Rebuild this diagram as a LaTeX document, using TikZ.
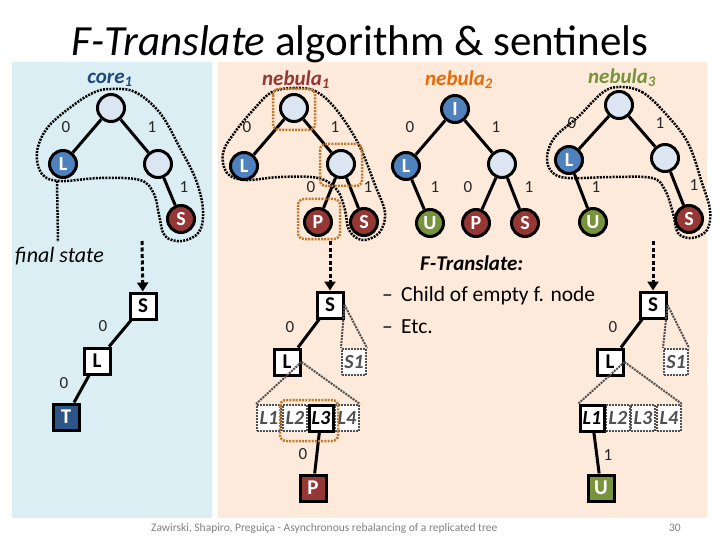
\documentclass[tikz,border=0pt]{standalone}
\usepackage{fontspec}
\setmainfont{Carlito}
\usetikzlibrary{arrows.meta}
\definecolor{bluebg}{RGB}{219,238,244}
\definecolor{peachbg}{RGB}{253,234,218}
\definecolor{nodeblue}{RGB}{79,129,189}
\definecolor{nodelight}{RGB}{220,230,242}
\definecolor{nodered}{RGB}{149,55,53}
\definecolor{nodegreen}{RGB}{119,147,60}
\definecolor{nodenavy}{RGB}{45,85,135}
\definecolor{corecol}{RGB}{31,73,125}
\definecolor{neb2col}{RGB}{228,108,10}
\definecolor{orangebox}{RGB}{192,120,45}
\definecolor{graybox}{RGB}{80,80,80}
\tikzset{
 cn/.style={circle, draw=black, line width=3pt, minimum size=27pt, inner sep=0pt, text=white, font=\fontsize{20}{20}\selectfont\bfseries},
 sq/.style={rectangle, draw=black, line width=3pt, minimum size=26pt, inner sep=0pt, fill=white, font=\fontsize{21}{21}\selectfont\bfseries},
 gb/.style={rectangle, draw=graybox, line width=2pt, dash pattern=on 2pt off 1pt, minimum width=24pt, minimum height=26pt, inner sep=0pt, fill=white, text=graybox, font=\fontsize{20}{20}\selectfont\bfseries\itshape},
 bb/.style={gb, draw=black, solid, line width=3pt, text=black},
 edge/.style={line width=3pt, black},
 lab/.style={font=\fontsize{17}{17}\selectfont, inner sep=0pt, text=black!85},
 loopline/.style={line width=2.5pt, dash pattern=on 2pt off 1.2pt},
 obox/.style={draw=orangebox, line width=2.5pt, dash pattern=on 2pt off 1.2pt, rounded corners=6pt},
 wedge/.style={draw=graybox, line width=2pt, dash pattern=on 2pt off 1pt},
 darr/.style={line width=3pt, dash pattern=on 4pt off 2.5pt, -{Triangle[length=9pt,width=11pt]}},
 ttl/.style={font=\fontsize{21}{21}\selectfont\bfseries\itshape, inner sep=0pt},
}
\begin{document}
\begin{tikzpicture}[x=1pt,y=-1pt]
\useasboundingbox (0,0) rectangle (720,540);
\fill[white] (0,0) rectangle (720,540);
\fill[bluebg] (12,62) rectangle (212,518);
\fill[peachbg] (218,62) rectangle (707,518);

% title
\node[font=\fontsize{43}{43}\selectfont, anchor=base, inner sep=0pt] (title) at (360,56) {\itshape F-Translate\upshape{} algorithm \& sentinels};

% ---------- dotted outlines ----------
\draw[loopline] plot[smooth cycle, tension=0.6] coordinates {(111,89) (135,92) (160,113) (180,148) (196,180) (203,210) (199,232) (182,241) (165,236) (159,215) (154,194) (140,180) (100,178) (60,181) (42,174) (37,152) (48,127) (75,104) (95,92)};
\draw[loopline] (57,181) -- (58,242);
\draw[loopline] plot[smooth cycle, tension=0.6] coordinates {(294,88) (315,91) (335,108) (358,143) (375,185) (385,213) (379,233) (362,240) (349,230) (345,210) (337,190) (318,178) (280,177) (245,180) (227,173) (223,153) (235,132) (255,108) (272,92)};
\draw[loopline] plot[smooth cycle, tension=0.6] coordinates {(619,87) (642,92) (665,113) (688,143) (702,183) (710,210) (707,230) (692,238) (678,233) (673,213) (665,190) (652,178) (612,177) (568,178) (552,172) (547,157) (555,137) (578,117) (602,93)};

% ---------- core1 ----------
\node[ttl, text=corecol] (c1t) at (110,80) {core\textsubscript{1}};
\node[cn, fill=nodelight] (c1r) at (111,108) {};
\node[cn, fill=nodeblue] (c1L) at (63,164) {L};
\node[cn, fill=nodelight] (c1R) at (158,164) {};
\node[cn, fill=nodered] (c1S) at (181,219) {S};
\draw[edge] (c1r) -- (c1L);
\draw[edge] (c1r) -- (c1R);
\draw[edge] (c1R) -- (c1S);
\node[lab] (c1l0) at (66,127) {0};
\node[lab] (c1l1) at (152,127) {1};
\node[lab] (c1l2) at (184,187) {1};

% ---------- nebula1 ----------
\node[ttl, text=nodered] (n1t) at (296,80) {nebula\textsubscript{1}};
\node[cn, fill=nodelight] (n1r) at (294,108) {};
\node[cn, fill=nodeblue] (n1L) at (244,166) {L};
\node[cn, fill=nodelight] (n1R) at (341,164) {};
\node[cn, fill=nodered] (n1P) at (318,222) {P};
\node[cn, fill=nodered] (n1S) at (364,222) {S};
\draw[edge] (n1r) -- (n1L);
\draw[edge] (n1r) -- (n1R);
\draw[edge] (n1R) -- (n1P);
\draw[edge] (n1R) -- (n1S);
\node[lab] (n1l0) at (247,127) {0};
\node[lab] (n1l1) at (335,127) {1};
\node[lab] (n1l2) at (311,187) {0};
\node[lab] (n1l3) at (368,187) {1};
\draw[obox] (273,89) rectangle (315,130);
\draw[obox] (320,144) rectangle (362,186);
\draw[obox] (298,199) rectangle (340,239);

% ---------- nebula2 ----------
\node[ttl, text=neb2col] (n2t) at (459,80) {nebula\textsubscript{2}};
\node[cn, fill=nodeblue] (n2r) at (455,109) {I};
\node[cn, fill=nodeblue] (n2L) at (406,166) {L};
\node[cn, fill=nodelight] (n2R) at (502,164) {};
\node[cn, fill=nodegreen] (n2U) at (430,223) {U};
\node[cn, fill=nodered] (n2P) at (476,223) {P};
\node[cn, fill=nodered] (n2S) at (525,223) {S};
\draw[edge] (n2r) -- (n2L);
\draw[edge] (n2r) -- (n2R);
\draw[edge] (n2L) -- (n2U);
\draw[edge] (n2R) -- (n2P);
\draw[edge] (n2R) -- (n2S);
\node[lab] (n2l0) at (410,127) {0};
\node[lab] (n2l1) at (496,127) {1};
\node[lab] (n2l2) at (435,187) {1};
\node[lab] (n2l3) at (468,187) {0};
\node[lab] (n2l4) at (529,187) {1};

% ---------- nebula3 ----------
\node[ttl, text=nodegreen] (n3t) at (622,78) {nebula\textsubscript{3}};
\node[cn, fill=nodelight] (n3r) at (619,105) {};
\node[cn, fill=nodeblue] (n3L) at (569,160) {L};
\node[cn, fill=nodelight] (n3R) at (665,158) {};
\node[cn, fill=nodegreen] (n3U) at (593,222) {U};
\node[cn, fill=nodered] (n3S) at (689,219) {S};
\draw[edge] (n3r) -- (n3L);
\draw[edge] (n3r) -- (n3R);
\draw[edge] (n3L) -- (n3U);
\draw[edge] (n3R) -- (n3S);
\node[lab] (n3l0) at (572,123) {0};
\node[lab] (n3l1) at (660,123) {1};
\node[lab] (n3l2) at (596,187) {1};
\node[lab] (n3l3) at (694,185) {1};

% ---------- final state ----------
\node[font=\fontsize{22}{22}\selectfont\itshape, inner sep=0pt, anchor=base west] (fst) at (15,262) {final state};
\node[sq] (fS) at (143,306) {S};
\node[sq] (fL) at (97,361) {L};
\node[sq, fill=nodenavy, text=white] (fT) at (66,417) {T};
\draw[edge] (fS) -- (fL);
\draw[edge] (fL) -- (fT);
\node[lab] (fl0) at (103,326) {0};
\node[lab] (fl1) at (64,383) {0};
\coordinate (a1) at (142,241);
\draw[darr] (a1) -- (fS);

% ---------- middle bottom ----------
\node[sq] (mS) at (330,305) {S};
\node[sq] (mL) at (287,362) {L};
\node[gb] (mS1) at (354,362) {S1};
\node[gb] (mL1) at (269,418) {L1};
\node[gb] (mL2) at (295,418) {L2};
\node[gb] (mL4) at (347,418) {L4};
\node[bb] (mL3) at (321,418) {L3};
\node[sq, fill=nodered, text=white] (mP) at (313,488) {P};
\draw[wedge] (mS.east) -- (mS1.north west);
\draw[wedge] (mS.east) -- (mS1.north east);
\draw[wedge] (mL.east) -- (mL1.north west);
\draw[wedge] (mL.east) -- (mL4.north east);
\draw[edge] (mS) -- (mL);
\draw[edge] (mL3) -- (mP);
\node[lab] (ml0) at (290,327) {0};
\node[lab] (ml1) at (303,454) {0};
\draw[obox] (280,400) rectangle (338,441);
\coordinate (a2) at (330,241);
\draw[darr] (a2) -- (mS);

% ---------- right bottom ----------
\node[sq] (rS) at (653,305) {S};
\node[sq] (rL) at (610,362) {L};
\node[gb] (rS1) at (676,362) {S1};
\node[gb] (rL2) at (618,418) {L2};
\node[gb] (rL3) at (643,418) {L3};
\node[gb] (rL4) at (669,418) {L4};
\node[bb] (rL1) at (592,418) {L1};
\node[sq, fill=nodegreen, text=white] (rU) at (601,488) {U};
\draw[wedge] (rS.east) -- (rS1.north west);
\draw[wedge] (rS.east) -- (rS1.north east);
\draw[wedge] (rL.east) -- (rL1.north west);
\draw[wedge] (rL.east) -- (rL4.north east);
\draw[edge] (rS) -- (rL);
\draw[edge] (rL1) -- (rU);
\node[lab] (rl0) at (613,327) {0};
\node[lab] (rl1) at (608,455) {1};
\coordinate (a3) at (653,241);
\draw[darr] (a3) -- (rS);

% ---------- F-Translate text ----------
\node[ttl, anchor=base west] (ftr) at (420,270) {F-Translate:};
\node[font=\fontsize{21.5}{21.5}\selectfont, inner sep=0pt, anchor=base west] (b1d) at (382,301) {–};
\node[font=\fontsize{21.5}{21.5}\selectfont, inner sep=0pt, anchor=base west] (b1) at (401,301) {Child of empty f. node};
\node[font=\fontsize{21.5}{21.5}\selectfont, inner sep=0pt, anchor=base west] (b2d) at (382,333) {–};
\node[font=\fontsize{21.5}{21.5}\selectfont, inner sep=0pt, anchor=base west] (b2) at (401,333) {Etc.};

% ---------- footer ----------
\node[font=\fontsize{11.5}{11.5}\selectfont, text=gray, inner sep=0pt, anchor=base west] (foot) at (151,531) {Zawirski, Shapiro, Preguiça - Asynchronous rebalancing of a replicated tree};
\node[font=\fontsize{11.5}{11.5}\selectfont, text=gray, inner sep=0pt, anchor=base east] (pg) at (681,531) {30};
\end{tikzpicture}
\end{document}
